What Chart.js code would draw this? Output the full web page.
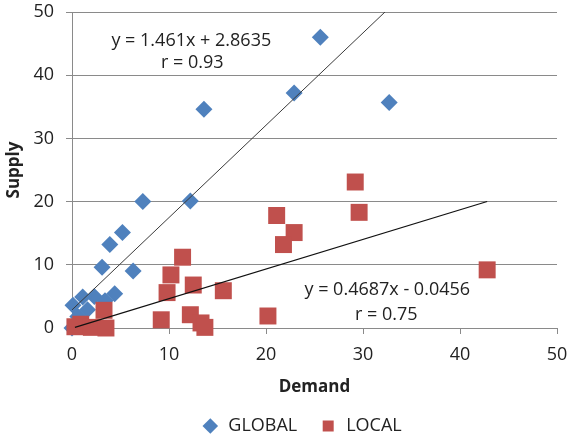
<!DOCTYPE html>
<html>
<head>
<meta charset="utf-8">
<title>Supply vs Demand</title>
<script src="https://cdn.jsdelivr.net/npm/chart.js@4.4.1/dist/chart.umd.min.js"></script>
<style>
    html, body { margin: 0; padding: 0; background: #fff; overflow: hidden; }
    canvas { display: block; }
</style>
</head>
<body>
<canvas id="supplyChart" width="569" height="439"></canvas>
<script>
// --- Datos: demanda / oferta por punto ---
const globalDemand = [25.6, 22.9, 13.6, 32.7, 7.3, 12.2, 5.2, 3.9, 3.1, 6.3, 4.4, 2.3, 1.1, 0.1, 3.4, 1.6, 0.6, 0.0];
const globalSupply = [46.0, 37.2, 34.6, 35.7, 20.0, 20.1, 15.1, 13.2, 9.6, 9.0, 5.4, 5.0, 4.9, 3.6, 4.3, 2.9, 1.8, 0.0];

const localDemand = [29.2, 29.6, 21.1, 22.9, 21.8, 11.4, 10.2, 9.8, 12.5, 15.6, 42.8, 20.2, 9.2, 12.2, 13.3, 13.7, 3.3, 0.3, 0.9, 2.0, 3.5];
const localSupply = [23.1, 18.3, 17.8, 15.1, 13.2, 11.2, 8.4, 5.6, 6.8, 5.9, 9.2, 1.9, 1.3, 2.1, 0.8, 0.1, 2.8, 0.2, 0.6, 0.1, 0.0];

// recta de tendencia: [pendiente, ordenada] y coeficiente r
const globalFit = [1.461, 2.8635];
const localFit = [0.4687, -0.0456];
const globalR = 0.93;
const localR = 0.75;

const axisTicks = [0, 10, 20, 30, 40, 50];

const FONT = '"Open Sans", "Noto Sans", sans-serif';
const TEXT = '#222';
const GRID = '#8a8a8a';

function toPoints(xs, ys) {
    return xs.map((x, i) => ({ x: x, y: ys[i] }));
}

// extremos de la recta sobre el rango de x de la serie
function fitLine(xs, fit) {
    const lo = Math.min(...xs), hi = Math.max(...xs);
    return [lo, hi].map(x => ({ x: x, y: fit[0] * x + fit[1] }));
}

function fitText(fit) {
    const sign = fit[1] < 0 ? ' - ' : ' + ';
    return 'y = ' + fit[0] + 'x' + sign + Math.abs(fit[1]);
}

// posición de las etiquetas de cada recta (en unidades de los ejes)
const fitNotes = [
    { eq: fitText(globalFit), r: 'r = ' + globalR.toFixed(2), at: [12.3, 45.5], rAt: [12.4, 42.0] },
    { eq: fitText(localFit), r: 'r = ' + localR.toFixed(2), at: [32.5, 6.05], rAt: [32.4, 2.1] }
];

const fitLabels = {
    id: 'fitLabels',
    afterDatasetsDraw(chart) {
        const { ctx, scales: { x, y } } = chart;
        ctx.save();
        ctx.font = '18px ' + FONT;
        ctx.fillStyle = TEXT;
        ctx.textAlign = 'center';
        ctx.textBaseline = 'middle';
        fitNotes.forEach(n => {
            ctx.fillText(n.eq, x.getPixelForValue(n.at[0]), y.getPixelForValue(n.at[1]));
            ctx.fillText(n.r, x.getPixelForValue(n.rAt[0]), y.getPixelForValue(n.rAt[1]));
        });
        ctx.restore();
    }
};

// la leyenda sube un poco y se corre a la derecha (solo el borde superior, para no recortar el texto)
const legendNudge = {
    id: 'legendNudge',
    afterLayout(chart) {
        const lg = chart.legend;
        lg.left += 23; lg.right += 23;
        lg.top -= 6;
    }
};

const ctx = document.getElementById('supplyChart').getContext('2d');
new Chart(ctx, {
    type: 'scatter',
    data: {
        datasets: [
            {
                label: 'GLOBAL',
                data: toPoints(globalDemand, globalSupply),
                pointStyle: 'rectRot',
                pointRadius: 8.5,
                pointBorderWidth: 0,
                backgroundColor: '#4f81bd',
                borderColor: '#4f81bd',
                clip: false,
                order: 2
            },
            {
                label: 'LOCAL',
                data: toPoints(localDemand, localSupply),
                pointStyle: 'rect',
                pointRadius: 12,
                pointBorderWidth: 0,
                backgroundColor: '#c0504d',
                borderColor: '#c0504d',
                clip: false,
                order: 1
            },
            {
                label: 'fit-global',
                data: fitLine(globalDemand, globalFit),
                showLine: true,
                borderColor: '#3a3a3a',
                borderWidth: 1,
                pointRadius: 0,
                order: 0
            },
            {
                label: 'fit-local',
                data: fitLine(localDemand, localFit),
                showLine: true,
                borderColor: '#111',
                borderWidth: 1.2,
                pointRadius: 0,
                order: 0
            }
        ]
    },
    options: {
        responsive: false,
        animation: false,
        layout: { padding: { left: 0, right: 12, top: 12, bottom: 0 } },
        scales: {
            x: {
                min: 0,
                max: 50,
                afterBuildTicks: s => { s.ticks = axisTicks.map(v => ({ value: v })); },
                afterFit: s => { s.height = 73; s.paddingLeft = 0; s.paddingRight = 0; },
                grid: { drawOnChartArea: false, color: GRID, tickLength: 6 },
                border: { color: GRID },
                ticks: { color: TEXT, font: { family: FONT, size: 18 }, padding: 10 },
                title: { display: true, text: 'Demand', color: TEXT, font: { family: FONT, size: 17, weight: 'bold' } }
            },
            y: {
                min: 0,
                max: 50,
                afterBuildTicks: s => { s.ticks = axisTicks.map(v => ({ value: v })); },
                afterFit: s => { s.width = 72; s.paddingTop = 0; s.paddingBottom = 0; },
                grid: { color: GRID, tickLength: 6 },
                border: { color: GRID },
                ticks: { color: TEXT, font: { family: FONT, size: 18 }, padding: 12 },
                title: { display: true, text: 'Supply', color: TEXT, font: { family: FONT, size: 17, weight: 'bold' } }
            }
        },
        plugins: {
            legend: {
                position: 'bottom',
                maxHeight: 38,
                labels: {
                    usePointStyle: true,
                    boxHeight: 11,
                    padding: 22,
                    color: TEXT,
                    font: { family: FONT, size: 18 },
                    filter: item => item.datasetIndex < 2,
                    sort: (a, b) => a.datasetIndex - b.datasetIndex
                }
            },
            tooltip: { enabled: false }
        }
    },
    plugins: [fitLabels, legendNudge]
});
</script>
</body>
</html>
